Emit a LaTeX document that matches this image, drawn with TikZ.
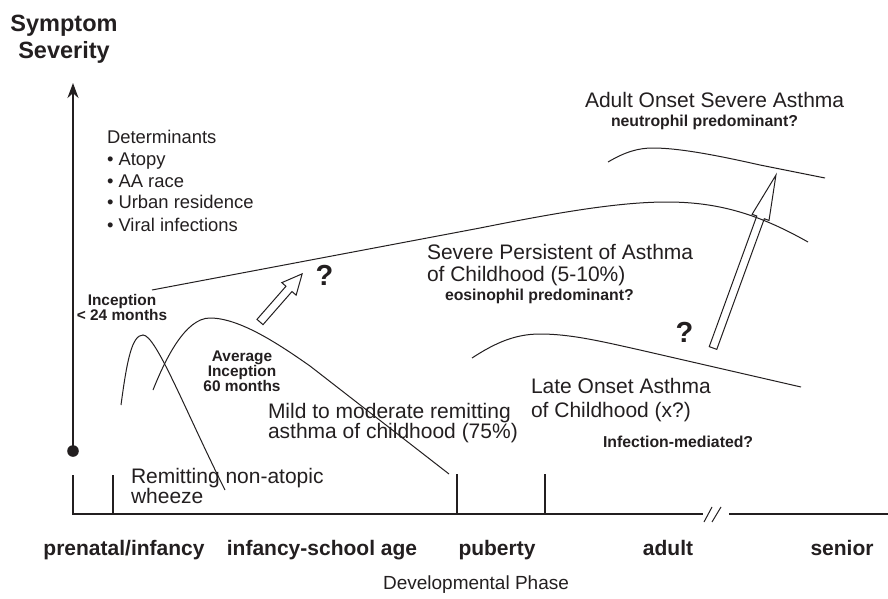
\documentclass[tikz,border=0pt]{standalone}
\usepackage{fontspec}
\setmainfont{Liberation Sans}
\usetikzlibrary{arrows.meta}
\definecolor{ink}{RGB}{35,31,32}
\newcommand{\fsz}[1]{\fontsize{#1pt}{#1pt}\selectfont}
\begin{document}
\begin{tikzpicture}[x=1pt,y=-1pt,
  every node/.style={inner sep=0pt, outer sep=0pt, text=ink},
  lab/.style={font=\fsz{21}, anchor=base west},
  note/.style={font=\bfseries\fsz{15.8}, anchor=base west},
  notec/.style={font=\bfseries\fsz{15.4}, anchor=base},
  phase/.style={font=\bfseries\fsz{21}, anchor=base},
  det/.style={font=\fsz{18.4}, anchor=base west},
  curve/.style={draw=ink, line width=1pt},
  hollow/.style={draw=ink, line width=1pt, line join=miter},
  qmark/.style={font=\bfseries\fsz{29}, anchor=center},
  tick/.style={draw=ink, line width=1.2pt},
]
\useasboundingbox (0,0) rectangle (888,599);
\fill[white] (0,0) rectangle (888,599);

% axis title
\node[font=\bfseries\fsz{23.5}, anchor=base] (t1) at (64,32) {Symptom};
\node[font=\bfseries\fsz{23.5}, anchor=base] (t2) at (64,59) {Severity};

% y axis
\coordinate (yorig) at (73,451);
\coordinate (ytop) at (73,83);
\draw[ink, line width=2.2pt, -{Stealth[length=15pt,width=11pt]}] (yorig) -- (ytop);
\fill[ink] (yorig) circle[radius=5.8pt];

% x axis
\coordinate (xl) at (72,514);
\coordinate (xb1) at (703,514);
\coordinate (xb2) at (729,514);
\coordinate (xr) at (888,514);
\draw[ink, line width=1.8pt] (xl) -- (xb1);
\draw[ink, line width=1.8pt] (xb2) -- (xr);
\draw[ink, line width=1pt] (704,522) -- (712,507);
\draw[ink, line width=1pt] (712,522) -- (721,507);
\draw[tick] (73,475) -- (73,514);
\draw[tick] (113,475) -- (113,514);
\draw[tick] (457,474) -- (457,514);
\draw[tick] (545,474) -- (545,514);

% phases
\node[phase] (p1) at (124,555) {prenatal/infancy};
\node[phase] (p2) at (322,555) {infancy-school age};
\node[phase] (p3) at (497,555) {puberty};
\node[phase] (p4) at (668,555) {adult};
\node[phase] (p5) at (842,555) {senior};
\node[font=\fsz{19}, anchor=base] (dp) at (476,589) {Developmental Phase};

% determinants
\node[det] (d0) at (107,143) {Determinants};
\node[det] (d1) at (107,165) {• Atopy};
\node[det] (d2) at (107,187) {• AA race};
\node[det] (d3) at (107,208.5) {• Urban residence};
\node[det] (d4) at (107,231) {• Viral infections};

% curves
\draw[curve] (121,405) .. controls (127,360) and (132,335) .. (143,335)
  .. controls (156,335) and (185,410) .. (225,490);
\draw[curve] (153,390) .. controls (165,360) and (185,318) .. (210,318)
  .. controls (240,318) and (280,345) .. (310,366) -- (449,474);
\draw[curve] (152,290) -- (480,228) .. controls (560,212) and (620,202) .. (667,202)
  .. controls (720,202) and (760,215) .. (808,242);
\draw[curve] (608,162) .. controls (625,152) and (638,148) .. (653,148)
  .. controls (680,148) and (720,156) .. (760,165) -- (825,178);
\draw[curve] (472,358) .. controls (495,343) and (515,334) .. (540,334)
  .. controls (570,334) and (600,341) .. (640,350) -- (801,387);

% hollow arrows
\begin{scope}[shift={(260,322)}, rotate=48.8]
  \draw[hollow, fill=white] (0,-4) -- (44,-4) -- (44,-9.5) -- (64,0) -- (44,9.5) -- (44,4) -- (0,4) -- cycle;
\end{scope}
\begin{scope}[shift={(713,348)}, rotate=70]
  \draw[hollow] (0,-4) -- (139,-4) -- (139,-9) -- (184,0) -- (139,9) -- (139,4) -- (0,4) -- cycle;
\end{scope}

\node[qmark] (q1) at (324.5,275.5) {?};
\node[qmark] (q2) at (684.5,332) {?};

% labels
\node[notec] (inc1) at (122,305.5) {Inception};
\node[notec] (inc2) at (122,320.5) {< 24 months};
\node[notec] (av1) at (242,361.5) {Average};
\node[notec] (av2) at (242,376.5) {Inception};
\node[notec] (av3) at (242,391.5) {60 months};
\node[lab] (mild1) at (268,418) {Mild to moderate remitting};
\node[lab] (mild2) at (268,438.5) {asthma of childhood (75\%)};
\node[lab] (rem1) at (131,483) {Remitting non-atopic};
\node[lab] (rem2) at (131,503) {wheeze};
\node[lab] (sev1) at (427,259) {Severe Persistent of Asthma};
\node[lab] (sev2) at (427,281) {of Childhood (5-10\%)};
\node[note] (eos) at (445,300) {eosinophil predominant?};
\node[lab] (ad1) at (585,107) {Adult Onset Severe Asthma};
\node[note] (neu) at (611,127) {neutrophil predominant?};
\node[lab] (late1) at (531,393) {Late Onset Asthma};
\node[lab] (late2) at (531,417) {of Childhood (x?)};
\node[note] (inf) at (603,447) {Infection-mediated?};
\end{tikzpicture}
\end{document}
